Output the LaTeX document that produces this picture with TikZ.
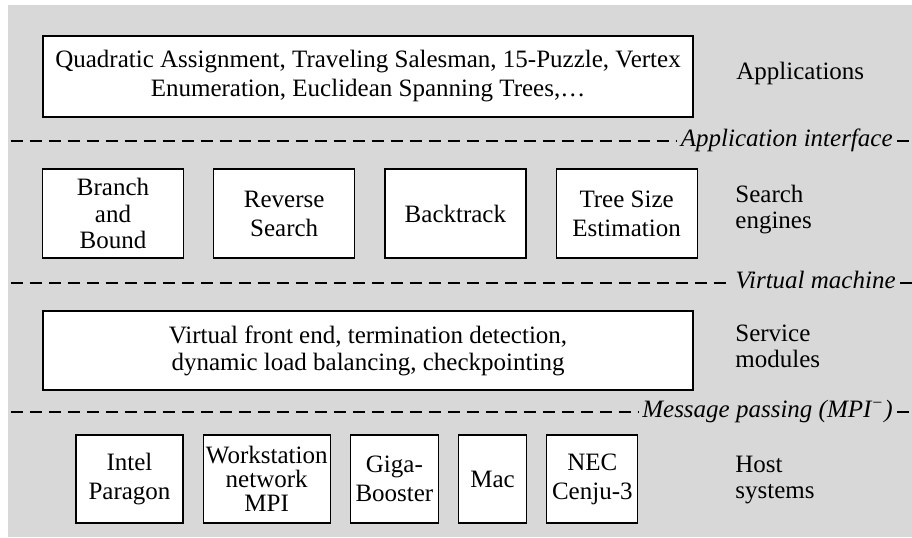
\documentclass[tikz,border=0pt]{standalone}
\usepackage{fontspec}
\setmainfont{Liberation Serif}
\usepackage{tikz}
\usetikzlibrary{positioning,calc}
\definecolor{bggray}{RGB}{216,216,216}

\begin{document}
\begin{tikzpicture}[
  x=0.5pt, y=-0.5pt, font=\fontsize{12.5}{14.5}\selectfont,
  node distance=14.5pt,
  layerbox/.style={draw,line width=0.6pt,fill=white,align=center,inner sep=1pt},
  enginebox/.style={layerbox,minimum width=70.5pt,minimum height=44.5pt},
  hostbox/.style={layerbox,minimum height=44pt},
  layername/.style={anchor=west,align=left,inner sep=0pt,
                    font=\fontsize{12.5}{13}\selectfont},
  ifacename/.style={anchor=base east,inner xsep=2pt,inner ysep=0pt,
                    font=\fontsize{12.5}{14}\selectfont\itshape},
  sep/.style={line width=0.6pt,dash pattern=on 6pt off 3.5pt},
]
\useasboundingbox (0,0) rectangle (912,537);
\fill[bggray] (8,5) rectangle (912,537);

% applications
\node[layerbox,minimum width=325pt,minimum height=40.5pt] (apps) at (368,76.5)
  {Quadratic Assignment, Traveling Salesman, 15-Puzzle, Vertex\\
   Enumeration, Euclidean Spanning Trees,…};
\node[anchor=base west,inner sep=0pt] (appsname) at (736,79) {Applications};

% search engines
\node[enginebox,font=\fontsize{12.5}{13.25}\selectfont] (bnb) at (113,213.5)
  {Branch\\and\\Bound};
\node[enginebox,right=of bnb] (rsearch) {Reverse\\Search};
\node[enginebox,right=of rsearch] (btrack) {Backtrack};
\node[enginebox,right=of btrack] (tsize) {Tree Size\\Estimation};
\node[layername] (enginename) at (735,209.5) {Search\\engines};

% service modules
\node[layerbox,minimum width=325pt,minimum height=39.5pt,
      font=\fontsize{12.5}{13.5}\selectfont] (service) at (368,350.5)
  {Virtual front end, termination detection,\\
   dynamic load balancing, checkpointing};
\node[layername] (servicename) at (735,346) {Service\\modules};

% host systems
\node[hostbox,minimum width=53.5pt] (intel) at (129.5,479) {Intel\\Paragon};
\node[hostbox,minimum width=63.5pt,font=\fontsize{12.5}{12}\selectfont,
      right=9.5pt of intel] (wsnet) {Workstation\\network\\MPI};
\node[hostbox,minimum width=44pt,right=9.5pt of wsnet] (giga) {Giga-\\Booster};
\node[hostbox,minimum width=34pt,right=9.5pt of giga] (mac) {Mac};
\node[hostbox,minimum width=45.5pt,right=9.5pt of mac] (nec) {NEC\\Cenju-3};
\node[layername] (hostname) at (735,480) {Host\\systems};

% interfaces
\node[ifacename] (appif) at (897,146.5) {Application interface};
\node[ifacename] (vm) at (900,288.5) {Virtual machine};
\node[ifacename] (mp) at (897,417.5) {Message passing (MPI\textsuperscript{−})};

\coordinate (l1) at (10.7,141);  \coordinate (r1) at (912,141);
\coordinate (l2) at (10.7,283);  \coordinate (r2) at (912,283);
\coordinate (l3) at (10.7,412);  \coordinate (r3) at (912,412);

\draw[sep] (l1) -- (l1 -| appif.west); \draw[sep] (r1 -| appif.east) -- (r1);
\draw[sep] (l2) -- (l2 -| vm.west);    \draw[sep] (r2 -| vm.east) -- (r2);
\draw[sep] (l3) -- (l3 -| mp.west);    \draw[sep] (r3 -| mp.east) -- (r3);
\end{tikzpicture}
\end{document}
